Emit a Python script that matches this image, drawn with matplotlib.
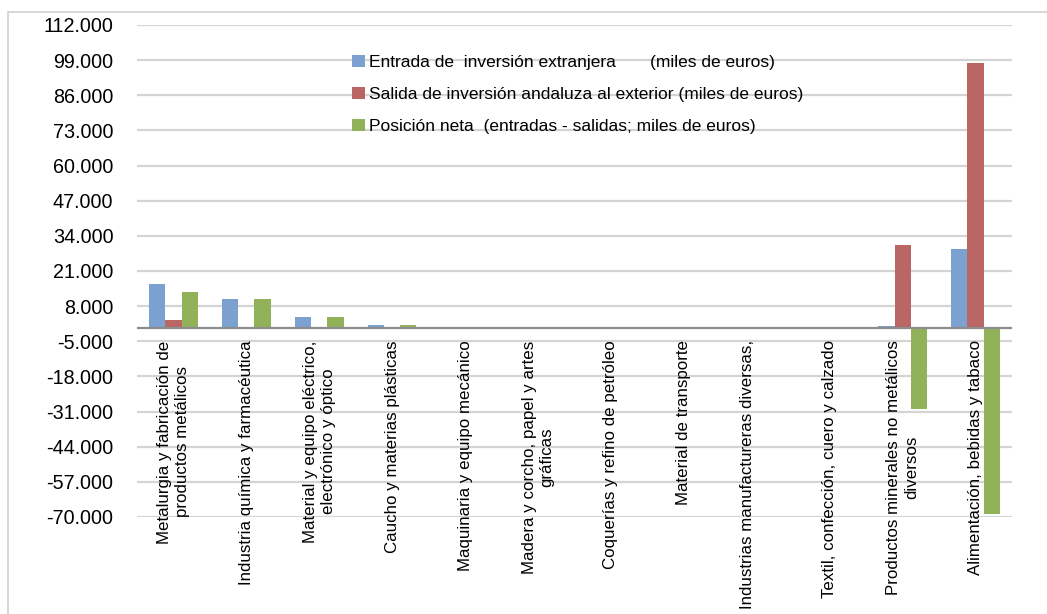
import numpy as np
import matplotlib
matplotlib.use('Agg')
from matplotlib import pyplot as plt
from matplotlib.patches import Rectangle

plt.rcParams['font.family'] = ['Liberation Sans', 'DejaVu Sans']

# sectores
categorias = ['Metalurgia y fabricación de\nproductos metálicos',
              'Industria química y farmacéutica',
              'Material y equipo eléctrico,\nelectrónico y óptico',
              'Caucho y materias plásticas',
              'Maquinaria y equipo mecánico',
              'Madera y corcho, papel y artes\ngráficas',
              'Coquerías y refino de petróleo',
              'Material de transporte',
              'Industrias manufactureras diversas,\n ',
              'Textil, confección, cuero y calzado',
              'Productos minerales no metálicos\ndiversos',
              'Alimentación, bebidas y tabaco']

# miles de euros
entrada = [16200, 10800, 3900, 900, 0, 0, 0, 0, 0, 0, 700, 29000]
salida  = [2800, 0, 0, 0, 0, 0, 0, 0, 0, 0, 30600, 97900]
neta    = [13400, 10800, 3900, 900, 0, 0, 0, 0, 0, 0, -29900, -68900]

series = ['Entrada de  inversión extranjera       (miles de euros)',
          'Salida de inversión andaluza al exterior (miles de euros)',
          'Posición neta  (entradas - salidas; miles de euros)']
colores = ['#7ba1d0', '#b96664', '#92b25a']

yticks = np.arange(-70000, 112001, 13000)

fig = plt.figure(figsize=(10.47, 6.14), dpi=100)
ax = fig.add_axes([0.1308, 0.158, 0.8358, 0.8013])

x = np.arange(len(categorias))
w = 0.222
for k, (vals, lab, c) in enumerate(zip([entrada, salida, neta], series, colores)):
    ax.bar(x + (k - 1) * w, vals, w, color=c, label=lab, zorder=3)

ax.set_xlim(-0.5, len(categorias) - 0.5)
ax.set_ylim(-70000, 112000)
ax.set_yticks(yticks)
ax.set_yticklabels([f'{v:,.0f}'.replace(',', '.') for v in yticks], fontsize=14.2)
ax.tick_params(axis='y', length=0, pad=17)
ax.set_xticks([])
ax.grid(axis='y', color='#d4d4d4', linewidth=1.6, zorder=0)
ax.axhline(0, color='#8c8c8c', linewidth=1.6, zorder=4)
for s in ax.spines.values():
    s.set_visible(False)

# etiquetas de categoria junto al eje cero
for i, lab in enumerate(categorias):
    ax.annotate(lab, (i, 0), xytext=(0, -9), textcoords='offset points',
                rotation=90, ha='center', va='top', multialignment='center',
                fontsize=12.2, linespacing=1.25, annotation_clip=False)

ax.legend(loc='upper left', bbox_to_anchor=(0.328, 0.925),
          bbox_transform=fig.transFigure, frameon=False, fontsize=12.5,
          handlelength=0.75, handleheight=0.75, handletextpad=0.25,
          labelspacing=0.95, borderpad=0)

# borde del grafico
fig.patches.append(Rectangle((8 / 1047, -0.01), 1.05, 1 - 12 / 614 + 0.01,
                             transform=fig.transFigure, fill=False,
                             edgecolor='#d0d0d0', linewidth=1.2))

plt.savefig('out.png', dpi=100)
